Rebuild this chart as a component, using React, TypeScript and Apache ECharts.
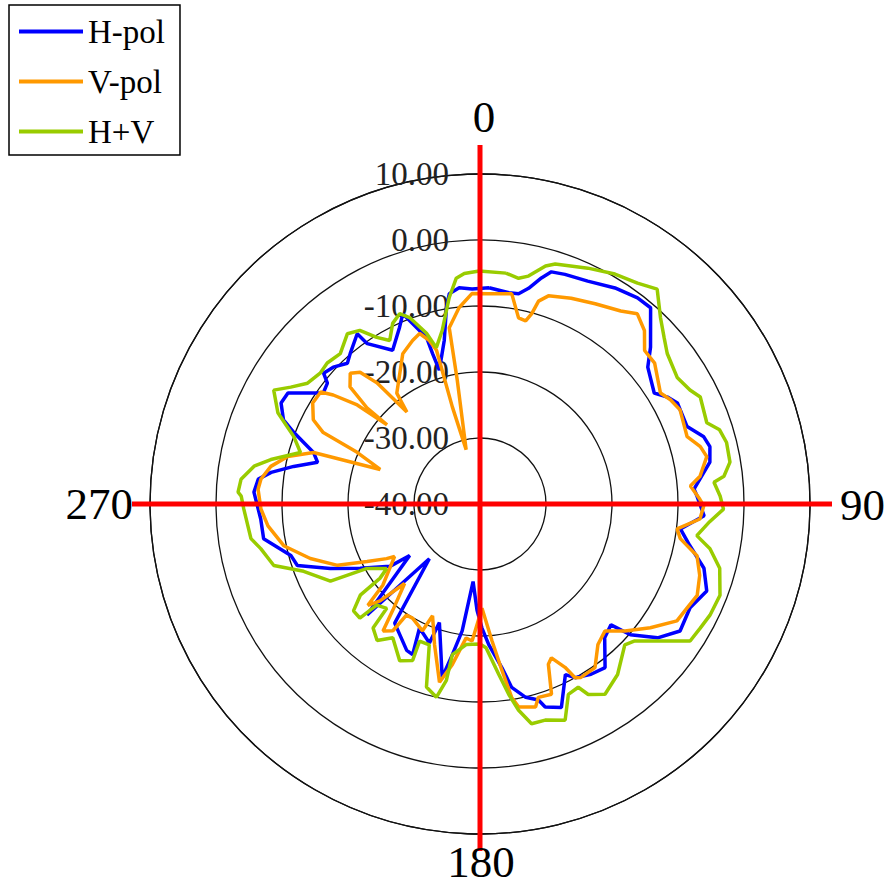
import React, { useEffect, useRef } from "react";
import * as echarts from "echarts";

// ---- Data (angle in degrees clockwise from top, value in dB) ----
const hAngles = [2.4, 7.8, 10.4, 12.7, 15.2, 17.1, 20.3, 25.8, 32.0, 37.4, 41.0, 47.4, 50.8, 57.5, 60.3, 62.9, 69.5, 73.3, 76.0, 79.7, 83.6, 86.0, 87.9, 93.0, 97.1, 101.2, 106.0, 111.0, 116.3, 122.4, 127.0, 131.0, 132.7, 137.0, 142.6, 146.9, 151.3, 153.4, 158.2, 162.2, 163.4, 166.7, 170.2, 172.4, 176.4, 179.1, 181.6, 185.1, 188.0, 190.4, 192.3, 198.9, 200.0, 206.0, 204.1, 206.6, 215.6, 222.8, 225.5, 233.8, 235.3, 241.8, 246.7, 251.4, 254.8, 260.9, 266.1, 273.0, 276.4, 278.6, 281.4, 284.4, 287.2, 291.0, 293.2, 296.9, 300.0, 301.7, 305.3, 308.4, 309.9, 313.0, 316.7, 319.2, 324.2, 324.9, 330.4, 335.5, 337.9, 339.5, 342.2, 342.5, 343.1, 347.7, 350.3, 351.7, 354.5, 357.9, 362.4];
const hValues = [-7.2, -7.7, -7.6, -6.5, -4.5, -3.2, -2.9, -2.5, -1.4, -0.7, -0.6, -4.9, -7.2, -8.7, -7.3, -6.4, -6.5, -4.6, -4.1, -4.6, -6.5, -7.5, -7.1, -6.0, -9.4, -7.6, -4.7, -3.2, -4.5, -4.1, -6.3, -9.8, -13.0, -12.3, -8.8, -9.2, -10.0, -11.1, -6.8, -7.7, -9.0, -9.9, -11.8, -15.0, -18.6, -21.2, -23.9, -28.2, -20.6, -16.8, -13.1, -21.0, -17.6, -19.1, -15.0, -15.2, -17.8, -28.7, -16.0, -26.8, -23.4, -19.4, -15.3, -10.8, -10.3, -6.8, -6.7, -5.7, -6.2, -8.0, -11.2, -14.6, -13.6, -9.8, -7.6, -6.2, -6.4, -8.0, -10.9, -10.5, -9.1, -9.6, -10.7, -9.9, -8.2, -10.3, -13.2, -10.6, -8.9, -10.8, -13.5, -16.1, -18.8, -14.6, -9.8, -7.8, -7.1, -7.4, -7.2];

const vAngles = [2.4, 8.6, 11.7, 14.0, 15.2, 16.1, 18.2, 23.9, 29.9, 36.1, 39.6, 43.5, 47.0, 51.1, 58.4, 61.3, 64.8, 72.0, 75.4, 78.2, 82.8, 85.1, 88.7, 90.5, 93.9, 97.2, 99.8, 103.4, 108.0, 112.8, 116.7, 120.7, 126.0, 131.2, 135.5, 140.0, 144.9, 149.8, 151.3, 152.5, 155.1, 156.9, 159.4, 163.2, 164.7, 169.2, 170.7, 172.5, 175.0, 178.9, 183.3, 185.9, 189.8, 192.8, 197.9, 203.0, 204.4, 210.6, 213.5, 214.5, 217.4, 219.4, 223.5, 225.9, 227.9, 230.1, 238.4, 239.7, 243.0, 246.7, 252.2, 258.0, 264.1, 268.7, 273.8, 276.5, 280.2, 283.9, 287.2, 289.1, 292.8, 294.5, 296.8, 301.1, 305.1, 306.6, 308.9, 310.4, 310.4, 312.0, 315.2, 317.7, 319.6, 321.5, 323.1, 332.8, 337.6, 340.5, 342.8, 344.2, 344.1, 345.7, 349.6, 350.1, 353.9, 357.8, 362.4];
const vValues = [-8.1, -7.8, -11.2, -11.4, -10.1, -8.0, -6.8, -5.9, -5.0, -3.8, -2.6, -3.8, -5.9, -6.0, -7.9, -7.1, -6.5, -7.0, -5.5, -4.9, -6.4, -8.0, -6.7, -6.1, -6.6, -9.9, -9.2, -6.2, -5.0, -4.3, -4.9, -5.3, -8.1, -10.8, -13.0, -12.2, -9.7, -9.6, -10.0, -12.1, -14.3, -13.6, -9.2, -9.4, -8.1, -8.7, -10.3, -14.6, -19.2, -24.2, -19.2, -19.6, -15.3, -12.3, -17.6, -21.6, -18.9, -19.9, -19.8, -16.7, -15.8, -19.2, -23.4, -18.9, -17.1, -20.8, -24.8, -23.6, -20.8, -16.5, -13.0, -9.6, -7.7, -6.8, -6.3, -6.6, -7.8, -10.0, -13.6, -24.0, -19.8, -13.9, -11.7, -10.4, -10.5, -12.3, -16.1, -21.5, -17.5, -13.5, -12.1, -13.0, -15.9, -22.2, -19.0, -14.4, -13.2, -12.6, -14.1, -15.8, -24.7, -31.5, -20.9, -12.9, -10.1, -8.1, -8.1];

const hvAngles = [6.4, 9.7, 12.0, 15.4, 17.4, 24.6, 30.4, 35.5, 39.5, 44.1, 47.9, 51.2, 57.3, 61.5, 64.1, 70.3, 72.8, 76.0, 80.5, 83.5, 84.7, 88.1, 91.2, 94.4, 98.3, 101.0, 105.0, 110.8, 115.8, 119.4, 123.1, 126.6, 131.5, 134.2, 141.1, 146.7, 150.4, 151.8, 155.1, 158.5, 163.2, 166.8, 169.4, 171.4, 173.7, 177.6, 180.0, 185.6, 190.4, 190.8, 192.7, 196.3, 199.8, 203.8, 203.3, 207.1, 213.1, 217.0, 220.8, 221.8, 225.6, 226.5, 229.8, 232.7, 233.4, 235.3, 240.3, 242.7, 249.1, 253.4, 258.5, 261.4, 268.8, 271.9, 272.8, 275.9, 279.5, 282.0, 286.0, 289.9, 294.3, 298.9, 301.7, 305.0, 309.3, 312.7, 317.1, 322.1, 325.3, 328.2, 331.1, 334.2, 337.1, 339.3, 342.6, 344.4, 347.7, 351.5, 354.0, 356.1, 359.8, 366.4];
const hvValues = [-4.8, -5.3, -4.7, -2.6, -1.9, -0.7, 0.4, 1.1, 2.2, -0.7, -2.4, -3.6, -4.5, -3.8, -2.9, -3.5, -2.0, -1.5, -1.6, -2.8, -4.4, -3.6, -3.1, -5.1, -6.8, -4.5, -2.4, -1.1, -1.3, -1.7, -2.0, -5.2, -8.7, -9.4, -6.8, -5.5, -6.8, -8.5, -8.2, -4.8, -5.8, -5.8, -8.2, -10.8, -14.0, -18.2, -18.8, -18.6, -16.8, -12.8, -10.0, -11.1, -17.3, -17.3, -14.2, -13.3, -15.8, -14.1, -15.2, -18.8, -18.1, -14.9, -14.9, -17.2, -21.1, -22.8, -20.3, -14.5, -11.4, -7.4, -6.1, -4.9, -4.2, -3.8, -3.3, -3.6, -5.3, -7.6, -11.7, -10.0, -6.4, -4.3, -6.3, -8.1, -8.7, -8.5, -8.9, -7.3, -8.0, -10.3, -11.7, -9.6, -8.7, -9.8, -12.9, -15.4, -13.1, -8.4, -5.6, -5.0, -4.7, -4.8];

const seriesNames = ["H-pol", "V-pol", "H+V"];
const seriesColors = ["#0000FF", "#FF9900", "#99CC00"];
const radiusTicks = [-40, -30, -20, -10, 0, 10];
const angleLabels = ["0", "90", "180", "270"];

const CX = 480;
const CY = 504;
const R = 330;
const SERIF = "'Liberation Serif', 'Times New Roman', serif";

function zip(angles: number[], values: number[]) {
  return angles.map((a, i) => [values[i], a >= 360 ? a - 360 : a]);
}

export default function App() {
  const ref = useRef<HTMLDivElement>(null);
  useEffect(() => {
    if (!ref.current) return;
    const chart = echarts.init(ref.current, undefined, { renderer: "svg" });
    const datasets = [zip(hAngles, hValues), zip(vAngles, vValues), zip(hvAngles, hvValues)];
    const angleLabelPos = [
      { x: CX + 4, y: CY - 387, align: "center", va: "middle" },
      { x: CX + 360, y: CY + 1, align: "left", va: "middle" },
      { x: CX + 1, y: 884, align: "center", va: "bottom" },
      { x: CX - 347, y: CY, align: "right", va: "middle" },
    ];
    chart.setOption({
      animation: false,
      backgroundColor: "#fff",
      polar: { center: [CX, CY], radius: R },
      angleAxis: {
        type: "value",
        min: 0,
        max: 360,
        startAngle: 90,
        clockwise: true,
        axisLine: { show: true, lineStyle: { color: "#111", width: 1.3 } },
        axisTick: { show: false },
        axisLabel: { show: false },
        splitLine: { show: false },
      },
      radiusAxis: {
        type: "value",
        min: radiusTicks[0],
        max: radiusTicks[radiusTicks.length - 1],
        interval: 10,
        axisLine: { show: false },
        axisTick: { show: false },
        splitLine: { show: true, lineStyle: { color: "#111", width: 1.3 } },
        axisLabel: {
          show: true,
          margin: 31,
          showMinLabel: true,
          showMaxLabel: true,
          fontSize: 33,
          fontFamily: SERIF,
          color: "#222",
          formatter: (v: number) => v.toFixed(2),
        },
        z: 3,
      },
      legend: {
        orient: "vertical",
        left: 9,
        top: 5,
        icon: "rect",
        itemWidth: 64,
        itemHeight: 4,
        itemGap: 17,
        itemTextGap: 5,
        padding: [10, 15, 7, 10],
        borderColor: "#000",
        borderWidth: 1.5,
        textStyle: { fontSize: 33, lineHeight: 33, fontFamily: SERIF, color: "#000" },
        data: seriesNames,
      },
      series: seriesNames.map((name, i) => ({
        name,
        type: "line",
        coordinateSystem: "polar",
        data: datasets[i],
        symbol: "none",
        lineStyle: { color: seriesColors[i], width: 3.5 },
        itemStyle: { color: seriesColors[i] },
        z: 5 + i,
      })),
      graphic: [
        {
          type: "line",
          z: 100,
          shape: { x1: CX, y1: CY - 359, x2: CX, y2: CY + 347 },
          style: { stroke: "#FF0000", lineWidth: 5 },
        },
        {
          type: "line",
          z: 100,
          shape: { x1: CX - 348, y1: CY, x2: CX + 352, y2: CY },
          style: { stroke: "#FF0000", lineWidth: 5 },
        },
        ...angleLabels.map((t, i) => ({
          type: "text",
          z: 100,
          x: angleLabelPos[i].x,
          y: angleLabelPos[i].y,
          style: {
            text: t,
            fontSize: 45,
            fontFamily: SERIF,
            fill: "#000",
            align: angleLabelPos[i].align,
            verticalAlign: angleLabelPos[i].va,
          },
        })),
      ],
    });
    return () => chart.dispose();
  }, []);
  return (
    <div
      ref={ref}
      style={{ position: "fixed", left: 0, top: 0, width: 891, height: 885, background: "#fff" }}
    />
  );
}
